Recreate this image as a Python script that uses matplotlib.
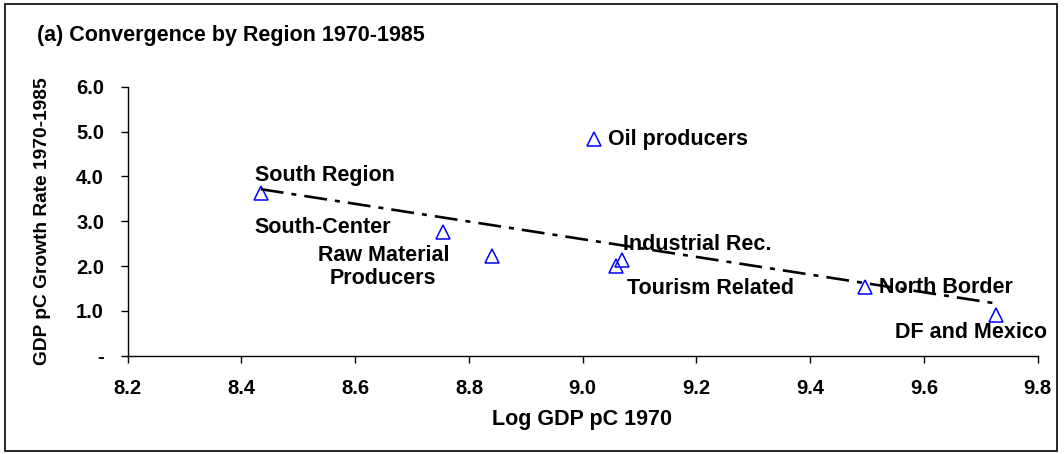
import numpy as np
import matplotlib
matplotlib.use("Agg")
import matplotlib.pyplot as plt
from matplotlib.patches import Rectangle

# ---- data ----
regions = ["South Region", "South-Center", "Raw Material\nProducers", "Oil producers",
           "Industrial Rec.", "Tourism Related", "North Border", "DF and Mexico"]
log_gdp_1970 = [8.434, 8.755, 8.840, 9.020, 9.069, 9.058, 9.496, 9.726]
growth_rate = [3.62, 2.76, 2.22, 4.83, 2.14, 2.00, 1.53, 0.90]
x_ticks = [8.2, 8.4, 8.6, 8.8, 9.0, 9.2, 9.4, 9.6, 9.8]
y_ticks = [0, 1, 2, 3, 4, 5, 6]
y_tick_labels = ["-", "1.0", "2.0", "3.0", "4.0", "5.0", "6.0"]

# label placement (offset points, ha)
label_style = [
    ((-4.3, 12.7), "left"),
    ((-38, 3), "right"),
    ((-78, -8), "center"),
    ((10, 0), "left"),
    ((0.7, 10.8), "left"),
    ((8, -16.5), "left"),
    ((10, 0), "left"),
    ((-18, -12.5), "center"),
]

plt.rcParams['font.family'] = ['Liberation Sans', 'DejaVu Sans']
plt.rcParams['font.weight'] = 'bold'
plt.rcParams['lines.scale_dashes'] = False

fig = plt.figure(figsize=(10.64, 4.54), dpi=100)
W, H = 1064, 454
ax = fig.add_axes([127.7 / W, 1 - 355.7 / H, (1037.7 - 127.7) / W, (355.7 - 86.7) / H])

x = np.array(log_gdp_1970)
y = np.array(growth_rate)

ax.plot(x, y, linestyle='none', marker='^', markersize=9.8, markerfacecolor='none',
        markeredgecolor='#0000FF', markeredgewidth=1.1, zorder=3)

slope, intercept = np.polyfit(x, y, 1)
xf = np.array([x.min(), x.max()])
ax.plot(xf, slope * xf + intercept, color='black', linewidth=1.9,
        linestyle=(0, (16.5, 5.8, 3.6, 5.8)), zorder=4)

for name, xi, yi, (off, ha) in zip(regions, x, y, label_style):
    ax.annotate(name, (xi, yi), xytext=off, textcoords='offset points',
                ha=ha, va='center', fontsize=15.5, fontweight='bold',
                multialignment='center', linespacing=1.1, zorder=2)

ax.set_xlim(8.2, 9.8)
ax.set_ylim(0, 6)
ax.set_xticks(x_ticks)
ax.set_xticklabels([f"{t:.1f}" for t in x_ticks])
ax.set_yticks(y_ticks)
ax.set_yticklabels(y_tick_labels)
ax.tick_params(axis='both', labelsize=14.5, direction='out', length=5, width=1, colors='black')
ax.tick_params(axis='x', pad=12)
ax.tick_params(axis='y', pad=12)
for lab in ax.get_xticklabels() + ax.get_yticklabels():
    lab.set_fontweight('bold')
for s in ['top', 'right']:
    ax.spines[s].set_visible(False)
for s in ['left', 'bottom']:
    ax.spines[s].set_linewidth(1)
    ax.spines[s].set_color('black')

fig.text(582 / W, 1 - 420 / H, "Log GDP pC 1970", ha='center', va='center',
         fontsize=15.5, fontweight='bold')
fig.text(43 / W, 1 - 221 / H, "GDP pC Growth Rate 1970-1985", ha='center', va='center',
         rotation=90, fontsize=13.8, fontweight='bold')
fig.text(37 / W, 1 - 36 / H, "(a) Convergence by Region 1970-1985", ha='left', va='center',
         fontsize=15.5, fontweight='bold')

fig.patches.append(Rectangle((5 / W, 1 - 451 / H), (1057 - 5) / W, (451 - 4) / H,
                             transform=fig.transFigure, fill=False, edgecolor='black',
                             linewidth=1.2))

fig.savefig("out.png", dpi=100)
